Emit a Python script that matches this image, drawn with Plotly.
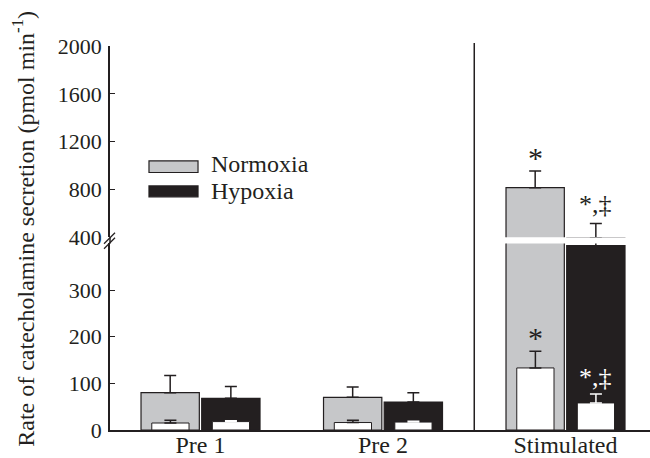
import plotly.graph_objects as go

# ---- data ----
categories = ["Pre 1", "Pre 2", "Stimulated"]
normoxia_total = [80, 70, 815]
normoxia_total_err = [37, 22, 140]
hypoxia_total = [68, 60, 395]
hypoxia_total_err = [25, 20, 120]
normoxia_inner = [15, 16, 133]
normoxia_inner_err = [6, 5, 36]
hypoxia_inner = [18, 17, 58]
hypoxia_inner_err = [2, 2, 19]
series_names = ["Normoxia", "Hypoxia"]
lower_ticks = [0, 100, 200, 300]
upper_ticks = [400, 800, 1200, 1600, 2000]

GRAY = "#c6c7c9"
INK = "#231f20"
FONT = "Liberation Serif"

xpos = list(range(len(categories)))

fig = go.Figure()

def add_bars(yaxis):
    fig.add_trace(go.Bar(
        x=xpos, y=normoxia_total, offset=-0.326, width=0.3195, base=0,
        marker=dict(color=GRAY, line=dict(color=INK, width=1.2)),
        error_y=dict(type="data", array=normoxia_total_err, arrayminus=[0]*3,
                     symmetric=False, color=INK, thickness=1.5, width=6),
        yaxis=yaxis, showlegend=False, name=series_names[0]))
    fig.add_trace(go.Bar(
        x=xpos, y=hypoxia_total, offset=0.0065, width=0.3195, base=0,
        marker=dict(color=INK, line=dict(color=INK, width=1.2)),
        error_y=dict(type="data", array=hypoxia_total_err, arrayminus=[0]*3,
                     symmetric=False, color=INK, thickness=1.5, width=6),
        yaxis=yaxis, showlegend=False, name=series_names[1]))
    fig.add_trace(go.Bar(
        x=xpos, y=normoxia_inner, offset=-0.267, width=0.204, base=0,
        marker=dict(color="white", line=dict(color=INK, width=1)),
        error_y=dict(type="data", array=normoxia_inner_err, arrayminus=[0]*3,
                     symmetric=False, color=INK, thickness=1.5, width=6),
        yaxis=yaxis, showlegend=False, name=series_names[0] + " (inner)"))
    fig.add_trace(go.Bar(
        x=xpos, y=hypoxia_inner, offset=0.0647, width=0.204, base=0,
        marker=dict(color="white", line=dict(color=INK, width=1)),
        error_y=dict(type="data", array=hypoxia_inner_err, arrayminus=[0]*3,
                     symmetric=False, color="white", thickness=1.5, width=6),
        yaxis=yaxis, showlegend=False, name=series_names[1] + " (inner)"))

add_bars("y")
add_bars("y2")

LOW_TOP = 0.486
UP_BOT = 0.502
MID = (LOW_TOP + UP_BOT) / 2

fig.update_layout(
    width=650, height=458,
    margin=dict(l=110, r=0, t=45.7, b=28, autoexpand=False),
    paper_bgcolor="white", plot_bgcolor="white",
    barmode="overlay",
    font=dict(family=FONT, size=22, color=INK),
    xaxis=dict(range=[-0.496, 2.463], tickvals=xpos, ticktext=categories,
               showline=True, linecolor=INK, linewidth=2, ticks="",
               showgrid=False, zeroline=False, anchor="y",
               ticklabelstandoff=-8,
               tickfont=dict(size=24, family=FONT, color=INK)),
    yaxis=dict(domain=[0, LOW_TOP], range=[0, 400], tickvals=lower_ticks,
               showline=True, linecolor=INK, linewidth=1.5, ticks="inside",
               ticklen=5, tickwidth=1.2, tickcolor=INK, showgrid=False,
               zeroline=False, anchor="x", ticklabelstandoff=2,
               tickfont=dict(size=22, family=FONT, color=INK)),
    yaxis2=dict(domain=[UP_BOT, 1], range=[400, 2000], tickvals=upper_ticks,
                showline=True, linecolor=INK, linewidth=1.5, ticks="inside",
                ticklen=5, tickwidth=1.2, tickcolor=INK, showgrid=False,
                zeroline=False, anchor="x", ticklabelstandoff=2,
                tickfont=dict(size=22, family=FONT, color=INK)),
)

shapes = []
# continuous left axis line through the break
shapes.append(dict(type="line", xref="paper", yref="paper", x0=0, x1=0,
                   y0=LOW_TOP, y1=UP_BOT, line=dict(color=INK, width=1.5)))
# axis break marks //
for dy in (-2.5, 2.5):
    shapes.append(dict(type="line", xref="paper", yref="paper",
                       xsizemode="pixel", ysizemode="pixel",
                       xanchor=0, yanchor=MID,
                       x0=-6, x1=5, y0=-6 + dy, y1=5 + dy,
                       line=dict(color=INK, width=1.3)))
# separator between baseline and stimulated phases
shapes.append(dict(type="line", xref="x", yref="paper", x0=1.5, x1=1.5,
                   y0=0, y1=1.008, line=dict(color=INK, width=1.5)))
# legend swatches
shapes.append(dict(type="rect", xref="paper", yref="paper",
                   x0=0.0722, x1=0.163, y0=0.6706, y1=0.7008,
                   fillcolor=GRAY, line=dict(color=INK, width=1.2)))
shapes.append(dict(type="rect", xref="paper", yref="paper",
                   x0=0.0722, x1=0.163, y0=0.6071, y1=0.6357,
                   fillcolor=INK, line=dict(color=INK, width=1.2)))
fig.update_layout(shapes=shapes)

annotations = [
    dict(text=series_names[0], xref="paper", yref="paper", x=0.1833, y=0.6927,
         xanchor="left", yanchor="middle", showarrow=False,
         font=dict(size=24, family=FONT, color=INK)),
    dict(text=series_names[1], xref="paper", yref="paper", x=0.1833, y=0.6219,
         xanchor="left", yanchor="middle", showarrow=False,
         font=dict(size=24, family=FONT, color=INK)),
    dict(text="Rate of catecholamine secretion (pmol min<sup>-1</sup>)",
         xref="paper", yref="paper", x=-0.16, y=0.523, textangle=-90,
         xanchor="center", yanchor="middle", showarrow=False,
         font=dict(size=24, family=FONT, color=INK)),
]
# significance markers
s = 2
annotations.append(dict(text="*", xref="x", yref="y2", x=xpos[s] - 0.166,
                        y=normoxia_total[s] + normoxia_total_err[s],
                        yanchor="bottom", showarrow=False, yshift=-5,
                        font=dict(size=30, family=FONT, color=INK)))
annotations.append(dict(text="*,‡", xref="x", yref="y2", x=xpos[s] + 0.166,
                        y=hypoxia_total[s] + hypoxia_total_err[s],
                        yanchor="bottom", showarrow=False, yshift=2,
                        font=dict(size=26, family=FONT, color=INK)))
annotations.append(dict(text="*", xref="x", yref="y", x=xpos[s] - 0.165,
                        y=normoxia_inner[s] + normoxia_inner_err[s],
                        yanchor="bottom", showarrow=False, yshift=-5,
                        font=dict(size=30, family=FONT, color=INK)))
annotations.append(dict(text="*,‡", xref="x", yref="y", x=xpos[s] + 0.167,
                        y=hypoxia_inner[s] + hypoxia_inner_err[s],
                        yanchor="bottom", showarrow=False, yshift=0,
                        font=dict(size=26, family=FONT, color="white")))
fig.update_layout(annotations=annotations)

fig.write_html("out.html",
               config={"displayModeBar": False},
               post_script="document.body.style.margin='0';"
                           "document.body.style.overflow='hidden';")
